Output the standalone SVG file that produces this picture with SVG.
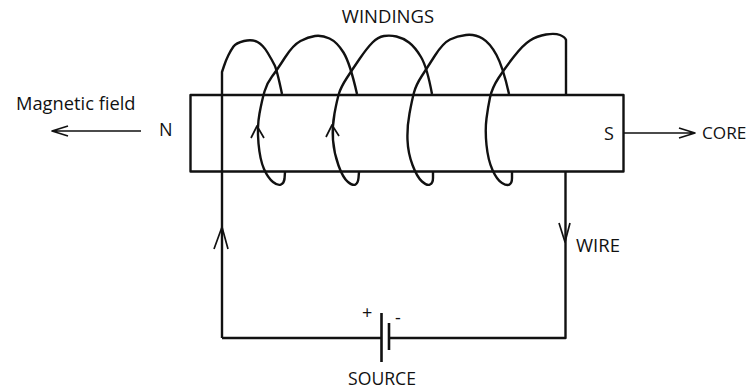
<svg xmlns="http://www.w3.org/2000/svg" width="748" height="390" viewBox="0 0 748 390">
<style>
.l{fill:none;stroke:#111;stroke-width:2.4;stroke-linejoin:round;stroke-linecap:butt}
.a{fill:none;stroke:#111;stroke-width:1.700;stroke-linejoin:round}
text{font-family:"Open Sans","Noto Sans","Liberation Sans",sans-serif;font-size:18px;fill:#111}
</style>
<rect width="748" height="390" fill="#fff"/>
<g id="core"><rect class="l" x="190.500" y="95" width="433" height="76.500" fill="#fff"/></g>
<g id="connectors">
<path class="l" d="M222 338V72L224 66Q226 60 228.500 55Q231 50 233.500 46.500Q236 43 244 41Q252 39 257.500 42Q263 45 267.500 52.500Q272 60 274.500 65Q277 70 282 94"/>
<path class="l" d="M285 172L284.500 179Q284 183 281 184.500Q278 186 273 182Q268 178 264 169Q260 160 258.500 143.500Q257 127 259.500 113.500Q262 100 264.500 91.500Q267 83 272 76.500Q277 70 285 57.500Q293 45 300.500 41Q308 37 315 36Q322 35 329.500 38.500Q337 42 343.500 52.500Q350 63 357 94"/>
<path class="l" d="M359 172L358.500 178Q358 183 355.500 184.500Q353 186 348 182Q343 178 338.500 165.500Q334 153 333 140Q332 127 334.500 113.500Q337 100 339 93.500Q341 87 346.500 78.500Q352 70 359.500 59Q367 48 372.500 42.500Q378 37 384 36Q390 35 396.500 36.500Q403 38 409 42.500Q415 47 421 57Q427 67 432 94"/>
<path class="l" d="M433 172V178Q433 183 430 184.500Q427 186 422 181.500Q417 177 412.500 165Q408 153 407.500 140Q407 127 409.500 113.500Q412 100 414 92.500Q416 85 421.500 76.500Q427 68 435 55.500Q443 43 450 39.500Q457 36 466 35Q475 34 482.500 38.500Q490 43 496.500 55Q503 67 509 94"/>
<path class="l" d="M512 172V178Q512 183 509.500 184.500Q507 186 502 183Q497 180 492.500 170Q488 160 486.500 145Q485 130 486.500 118.500Q488 107 490 97.500Q492 88 498.500 78Q505 68 514 56.500Q523 45 530 40.500Q537 36 546 34.500Q555 33 560 35Q565 37 566 40V95"/>
<path class="l" d="M565.500 171V338H388.500M381.500 338H222"/>
<path class="a" d="M251 138L257 126L264 138M326 137L332 125L339 136"/>
<path class="a" d="M214 249L222 227L228 249M559 223L565 242L570 223"/>
<path class="a" d="M141 131H52M68 126L52 131L68 136"/>
<path class="a" d="M624 133H695M679 128L695 133L679 138"/>
</g>
<g id="source">
<path class="l" d="M381.500 313V362M389 323V350" style="stroke-width:2.600"/>
<text x="362" y="319">+</text><text x="395" y="324">-</text>
<text x="382" y="384.800" text-anchor="middle" style="font-size:17.600px">SOURCE</text>
</g>
<g id="labels">
<text x="388" y="23" text-anchor="middle" style="font-size:18.500px">WINDINGS</text>
<text x="16" y="110" style="font-size:18.300px">Magnetic field</text>
<text x="159" y="136">N</text>
<text x="604" y="140">S</text>
<text x="702" y="139" style="font-size:17.200px">CORE</text>
<text x="576" y="252" style="font-size:18.500px">WIRE</text>
</g>
</svg>
